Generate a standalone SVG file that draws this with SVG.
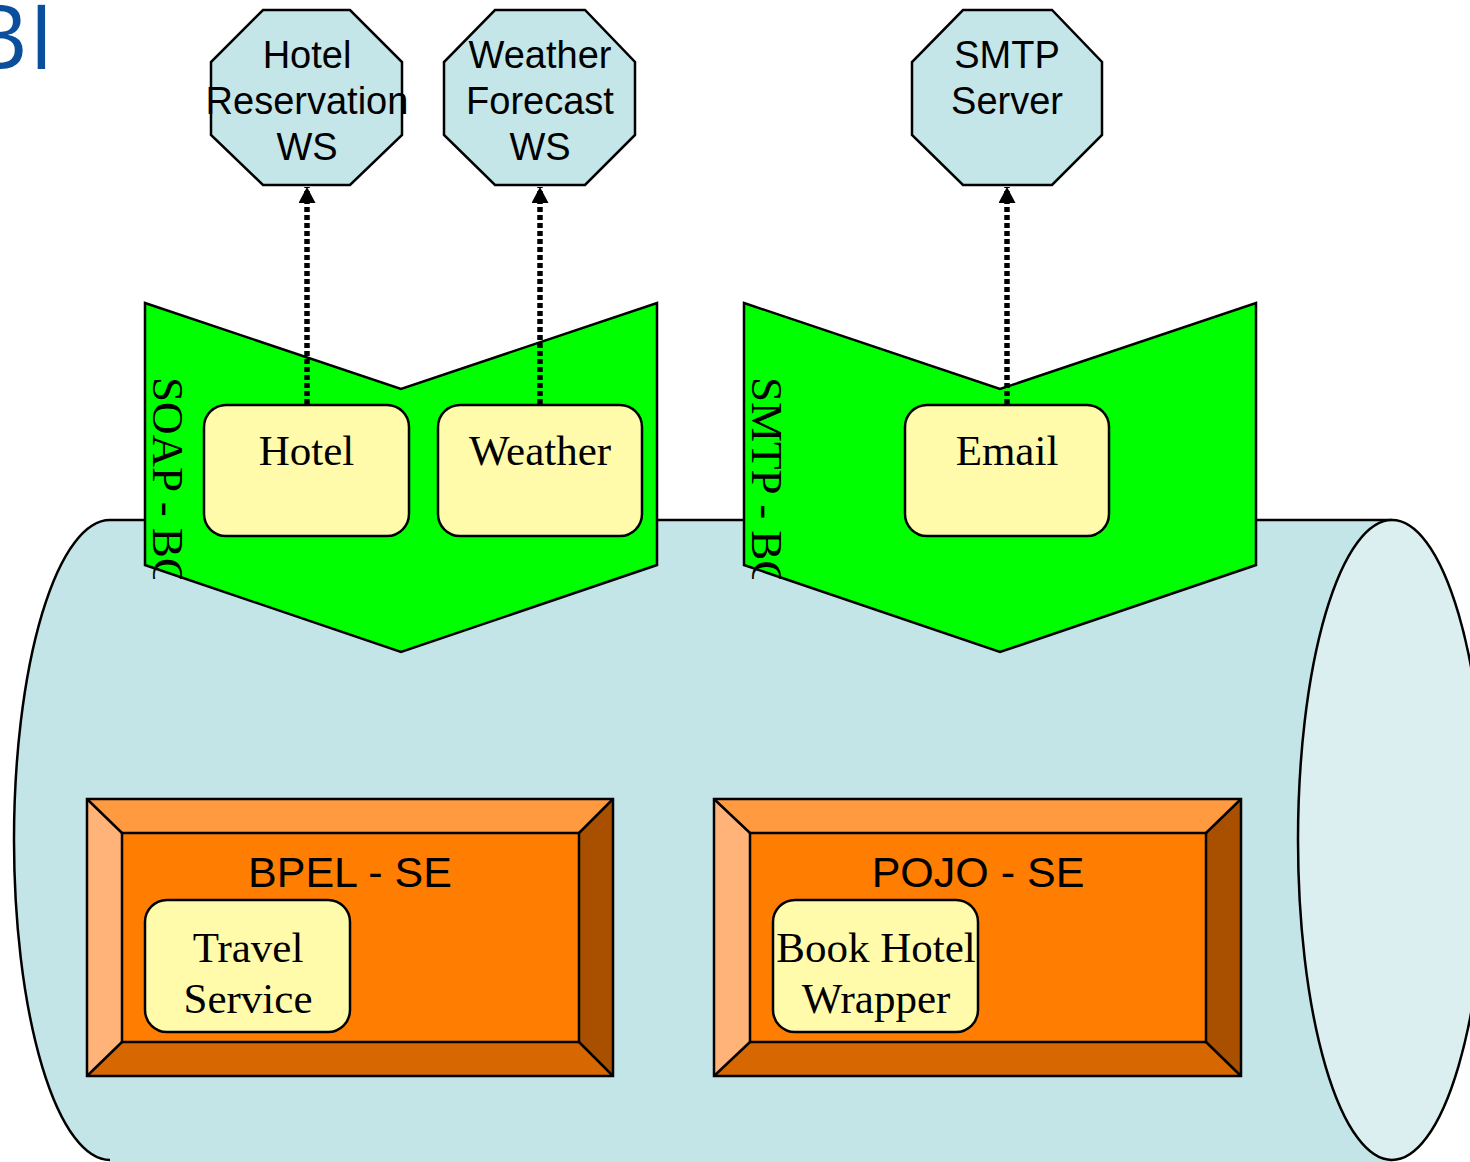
<svg xmlns="http://www.w3.org/2000/svg" width="1470" height="1162" viewBox="0 0 1470 1162">
<style>
.ln{stroke:#000;stroke-width:2.5;stroke-linejoin:miter}
.oct{fill:#c4e6e8;stroke:#000;stroke-width:2.5}
.oct-t{font-family:"Liberation Sans",Arial,sans-serif;font-size:38px;text-anchor:middle;fill:#000}
.bc{fill:#00ff00;stroke:#000;stroke-width:2.5}
.bc-t{font-family:"Liberation Serif","Times New Roman",serif;font-size:45px;fill:#000}
.ep{fill:#fffbaa;stroke:#000;stroke-width:2.5}
.ep-t{font-family:"Liberation Serif","Times New Roman",serif;font-size:43px;text-anchor:middle;fill:#000}
.se-t{font-family:"Liberation Sans",Arial,sans-serif;font-size:43px;text-anchor:middle;fill:#000}
.bv-c{fill:#ff7d00}
.bv-top{fill:#ff9a40}
.bv-l{fill:#ffb378}
.bv-r{fill:#a84f00}
.bv-b{fill:#d76700}
.conn{stroke:#000;stroke-width:5.5;stroke-dasharray:5 3;fill:none}
</style>
<defs>
<marker id="arr" markerUnits="userSpaceOnUse" markerWidth="16" markerHeight="17" viewBox="0 0 16 17" refX="16" refY="8.5" orient="auto">
<path d="M0,0 L16,8.5 L0,17 Z" fill="#000"/>
</marker>
<clipPath id="clipSoap"><rect x="140" y="300" width="70" height="279"/></clipPath>
<clipPath id="clipSmtp"><rect x="739" y="300" width="70" height="279"/></clipPath>
</defs>
<rect width="1470" height="1162" fill="#fff"/>

<text font-family="'Open Sans','Noto Sans',sans-serif" font-size="89" fill="#0b4f9c" y="69"><tspan x="-30">B</tspan><tspan x="29">I</tspan></text>

<g id="bus">
<path d="M110,520 A96,320 0 0,0 14,840 A96,320 0 0,0 110,1160 L110,1162 L1392,1162 L1392,520 Z" fill="#c4e5e8" stroke="none"/>
<path d="M1392,520 H110 A96,320 0 0,0 14,840 A96,320 0 0,0 110,1160" fill="none" stroke="#000" stroke-width="2.5"/>
<ellipse cx="1392" cy="840" rx="94" ry="320" fill="#dbeef0" stroke="#000" stroke-width="2.5"/>
</g>

<g id="hotel-ws">
<polygon class="oct" points="263,10 350,10 402,62 402,135 350,185 263,185 211,135 211,62"/>
<text class="oct-t" x="307" y="68">Hotel</text>
<text class="oct-t" x="307" y="114">Reservation</text>
<text class="oct-t" x="307" y="160">WS</text>
</g>
<g id="weather-ws">
<polygon class="oct" points="495,10 585,10 635,62 635,135 585,185 495,185 444,135 444,62"/>
<text class="oct-t" x="540" y="68">Weather</text>
<text class="oct-t" x="540" y="114">Forecast</text>
<text class="oct-t" x="540" y="160">WS</text>
</g>
<g id="smtp-server">
<polygon class="oct" points="963,10 1052,10 1102,62 1102,135 1052,185 963,185 912,135 912,62"/>
<text class="oct-t" x="1007" y="68">SMTP</text>
<text class="oct-t" x="1007" y="114">Server</text>
</g>

<g id="soap-bc">
<polygon class="bc" points="145,303 401,389 657,303 657,565 401,652 145,565"/>
<g clip-path="url(#clipSoap)"><text class="bc-t" transform="translate(153,377) rotate(90)">SOAP - BC</text></g>
</g>
<g id="smtp-bc">
<polygon class="bc" points="744,303 1000,389 1256,303 1256,565 1000,652 744,565"/>
<g clip-path="url(#clipSmtp)"><text class="bc-t" transform="translate(752,377) rotate(90)">SMTP - BC</text></g>
</g>

<g id="connectors">
<line class="conn" x1="307" y1="404" x2="307" y2="187" marker-end="url(#arr)"/>
<line class="conn" x1="540" y1="404" x2="540" y2="187" marker-end="url(#arr)"/>
<line class="conn" x1="1007" y1="404" x2="1007" y2="187" marker-end="url(#arr)"/>
</g>

<g id="hotel">
<rect class="ep" x="204" y="405" width="205" height="131" rx="22"/>
<text class="ep-t" x="306.5" y="465">Hotel</text>
</g>
<g id="weather">
<rect class="ep" x="438" y="405" width="204" height="131" rx="22"/>
<text class="ep-t" x="540" y="465">Weather</text>
</g>
<g id="email">
<rect class="ep" x="905" y="405" width="204" height="131" rx="22"/>
<text class="ep-t" x="1007" y="465">Email</text>
</g>

<g id="bpel-se">
<rect class="bv-c" x="87" y="799" width="526" height="277"/>
<polygon class="bv-top" points="87,799 613,799 579,833 122,833"/>
<polygon class="bv-l" points="87,799 122,833 122,1042 87,1076"/>
<polygon class="bv-r" points="613,799 613,1076 579,1042 579,833"/>
<polygon class="bv-b" points="87,1076 122,1042 579,1042 613,1076"/>
<g class="ln" fill="none">
<rect x="87" y="799" width="526" height="277"/>
<rect x="122" y="833" width="457" height="209"/>
<path d="M87,799 L122,833 M613,799 L579,833 M87,1076 L122,1042 M613,1076 L579,1042"/>
</g>
<text class="se-t" x="350" y="887">BPEL - SE</text>
</g>
<g id="travel-service">
<rect class="ep" x="145" y="900" width="205" height="132" rx="22"/>
<text class="ep-t" x="248" y="962">Travel</text>
<text class="ep-t" x="248" y="1013">Service</text>
</g>

<g id="pojo-se">
<rect class="bv-c" x="714" y="799" width="527" height="277"/>
<polygon class="bv-top" points="714,799 1241,799 1206,833 750,833"/>
<polygon class="bv-l" points="714,799 750,833 750,1042 714,1076"/>
<polygon class="bv-r" points="1241,799 1241,1076 1206,1042 1206,833"/>
<polygon class="bv-b" points="714,1076 750,1042 1206,1042 1241,1076"/>
<g class="ln" fill="none">
<rect x="714" y="799" width="527" height="277"/>
<rect x="750" y="833" width="456" height="209"/>
<path d="M714,799 L750,833 M1241,799 L1206,833 M714,1076 L750,1042 M1241,1076 L1206,1042"/>
</g>
<text class="se-t" x="978" y="887">POJO - SE</text>
</g>
<g id="book-hotel-wrapper">
<rect class="ep" x="773" y="900" width="205" height="132" rx="22"/>
<text class="ep-t" x="876" y="962">Book Hotel</text>
<text class="ep-t" x="876" y="1013">Wrapper</text>
</g>
</svg>
